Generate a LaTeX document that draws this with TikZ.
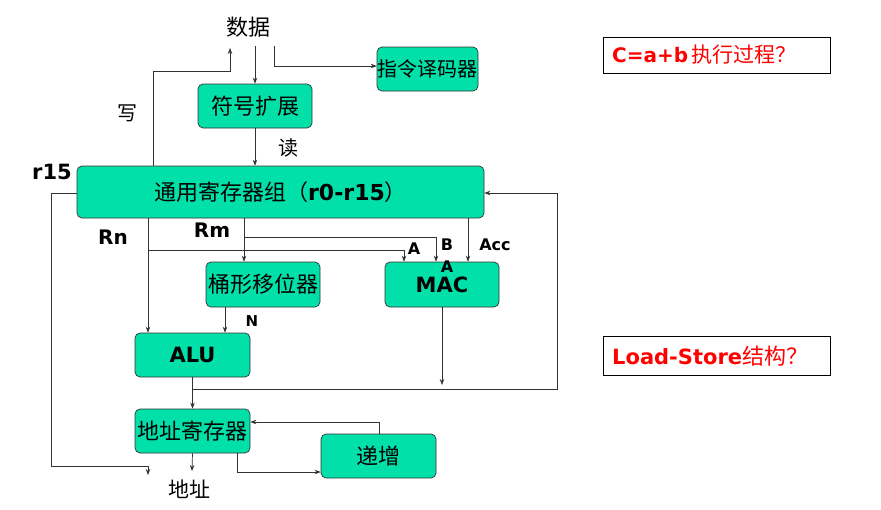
\documentclass[tikz,border=0pt]{standalone}
\usepackage{fontspec}
\setmainfont{DejaVu Sans}
\newfontfamily\cjk{Noto Sans CJK SC}
\newfontfamily\lat{DejaVu Sans}
\usetikzlibrary{arrows.meta}
\definecolor{boxgreen}{RGB}{0,224,168}
\definecolor{linegray}{RGB}{50,50,50}
\begin{document}
\begin{tikzpicture}[x=1pt,y=-1pt,
  blk/.style={draw=black!80, fill=boxgreen, rounded corners=5pt, line width=0.7pt, inner sep=0pt, anchor=center},
  arr/.style={-{Stealth[length=6pt,width=4.5pt]}, draw=linegray, line width=0.7pt},
  ln/.style={draw=linegray, line width=0.7pt},
  cj/.style={font=\cjk\fontsize{22}{22}\selectfont, inner sep=0pt},
  lb/.style={font=\lat\bfseries\fontsize{20}{20}\selectfont, inner sep=0pt},
  sl/.style={font=\lat\bfseries\fontsize{16}{16}\selectfont, inner sep=0pt},
  qbox/.style={draw=black, line width=1pt, fill=white, inner sep=0pt, text=red}]
\useasboundingbox (0,0) rectangle (881,509);
% boxes
\node[blk, minimum width=101pt, minimum height=44pt, cj, font=\cjk\fontsize{20}{20}\selectfont] (dec) at (427.5,69) {指令译码器};
\node[blk, minimum width=114pt, minimum height=44pt, cj] (sign) at (255,106) {符号扩展};
\node[blk, minimum width=407pt, minimum height=52pt, cj] (reg) at (280.5,192) {通用寄存器组（{\lat\bfseries r0-r15}）};
\node[blk, minimum width=114pt, minimum height=45pt, cj] (bar) at (263,284.5) {桶形移位器};
\node[blk, minimum width=114pt, minimum height=45pt, font=\lat\bfseries\fontsize{21}{21}\selectfont] (mac) at (442,284.5) {\raisebox{-3pt}{MAC}};
\node[blk, minimum width=115pt, minimum height=44pt, font=\lat\bfseries\fontsize{21}{21}\selectfont] (alu) at (192.5,355) {ALU};
\node[blk, minimum width=115pt, minimum height=44pt, cj] (addr) at (192.5,431) {地址寄存器};
\node[blk, minimum width=115pt, minimum height=44pt, cj] (inc) at (378.5,456) {递增};
% texts
\node[cj] (data) at (248,27) {数据};
\node[cj, font=\cjk\fontsize{20}{20}\selectfont] (wr) at (127,113) {写};
\node[cj, font=\cjk\fontsize{20}{20}\selectfont] (rd) at (288,148) {读};
\node[lb, font=\lat\bfseries\fontsize{21}{21}\selectfont] (r15) at (52,172) {r15};
\node[lb] (rn) at (113,237) {Rn};
\node[lb] (rm) at (212,230) {Rm};
\node[sl] (la) at (414,249) {A};
\node[sl] (lbb) at (447,245) {B};
\node[sl] (lacc) at (495,245) {Acc};
\node[sl] (la2) at (447,267) {A};
\node[sl, font=\lat\bfseries\fontsize{15}{15}\selectfont] (ln) at (252,321) {N};
\node[cj, font=\cjk\fontsize{21}{21}\selectfont] (addrt) at (189,489) {地址};
\node[qbox, minimum width=227pt, minimum height=36pt] (q1) at (716.5,55) {};
\node[anchor=west, text=red, inner sep=0pt] (q1t) at (612,55) {{\lat\bfseries\fontsize{20}{20}\selectfont C=a+b} {\cjk\fontsize{21}{21}\selectfont 执行过程？}};
\node[qbox, minimum width=227pt, minimum height=39pt] (q2) at (716.5,355.5) {};
\node[anchor=west, text=red, inner sep=0pt] (q2t) at (612,356) {{\lat\bfseries\fontsize{21}{21}\selectfont Load-Store}{\cjk\fontsize{22}{22}\selectfont 结构？}};
% coordinates
\coordinate (d1) at (255,46);
\coordinate (d2) at (274,46);
\coordinate (w1) at (230,48);
% connectors
\draw[arr] (d1) -- (sign.north -| d1);
\draw[arr] (d2) |- (dec.west |- 0,66);
\draw[arr] (reg.north -| 153,0) |- (w1 |- 0,71) -- (w1);
\draw[arr] (sign.south) -- (reg.north -| sign.south);
% r15 loop
\draw[arr] (reg.west |- 0,193) -| (51,466) -| (148,475);
% Rn
\draw[arr] (reg.south -| 148,0) -- (alu.north -| 148,0);
\draw[arr] (148,250) -| (mac.north -| 404,0);
% Rm
\draw[arr] (reg.south -| 244,0) -- (bar.north -| 244,0);
\draw[arr] (244,237) -| (mac.north -| 436,0);
% Acc
\draw[arr] (reg.south -| 468,0) -- (mac.north -| 468,0);
% barrel to ALU
\draw[arr] (bar.south -| 225,0) -- (alu.north -| 225,0);
% MAC out
\draw[arr] (mac.south) -- (442,385);
% ALU out / feedback
\draw[arr] (alu.south) -- (addr.north);
\draw[arr] (192,389) -| (557,193) -- (reg.east |- 0,193);
% address register
\draw[arr] (addr.south) -- (192,471);
\draw[arr] (addr.south -| 237,0) |- (inc.west |- 0,472);
\draw[arr] (inc.north -| 379,0) |- (addr.east |- 0,422);
\end{tikzpicture}
\end{document}
